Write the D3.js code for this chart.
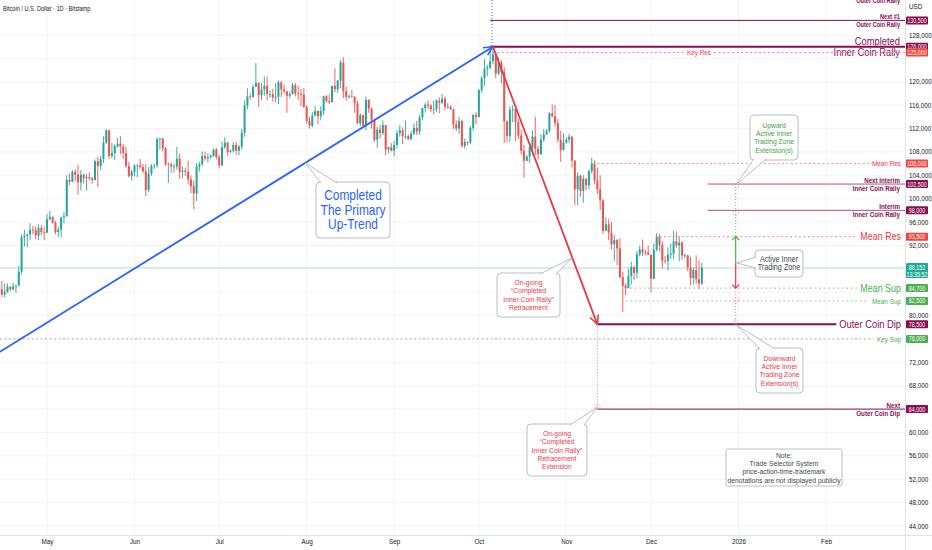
<!DOCTYPE html>
<html lang="en">
<head>
<meta charset="utf-8"/>
<style>
  body { margin: 0; background: #ffffff; }
  svg { display: block; }
  text { font-family: "Liberation Sans", Arial, sans-serif; }
</style>
</head>
<body>
<svg id="chart" width="932" height="550"></svg>

<script src="https://d3js.org/d3.v7.min.js"></script>
<script>
// ---- data (prices in thousands of USD, one candle per day from firstDay) ----
let firstDay = "2025-04-14"
let firstOpen = 83.7
let closes = [
  // Apr 14-30
  84.5, 83.6, 84.0, 84.9, 84.5, 85.0, 85.1, 87.5, 93.4, 93.7, 93.9, 94.7, 94.6, 93.7, 95.0, 94.3, 94.2,
  // May
  96.5, 96.9, 95.9, 94.3, 94.7, 96.8, 97.0, 103.2, 102.9, 104.6, 104.1, 102.8, 104.1, 103.5, 103.7, 103.5,
  103.2, 106.4, 105.6, 106.8, 109.6, 111.7, 107.3, 107.8, 109.0, 109.4, 108.9, 107.8, 105.6, 103.9, 104.6,
  // Jun
  105.7, 105.7, 105.4, 104.7, 101.5, 104.3, 105.6, 105.7, 110.2, 110.3, 108.6, 105.9, 105.9, 105.5, 105.5,
  106.8, 104.6, 104.8, 104.6, 103.3, 102.1, 100.9, 105.5, 105.9, 107.3, 106.9, 107.1, 107.3, 108.4, 107.1,
  // Jul
  105.7, 108.8, 109.6, 108.0, 108.2, 109.2, 108.2, 108.9, 111.3, 115.9, 117.5, 117.4, 119.1, 119.8, 117.7,
  118.7, 119.3, 117.9, 117.9, 117.3, 117.4, 119.9, 118.7, 118.4, 117.6, 117.9, 119.4, 118.0, 117.9, 117.8, 115.7,
  // Aug
  113.3, 112.5, 114.2, 115.0, 114.1, 115.0, 117.5, 116.7, 116.5, 119.3, 118.7, 120.2, 123.3, 118.4, 117.4,
  117.5, 117.4, 116.3, 112.9, 114.3, 112.5, 116.9, 115.4, 113.5, 110.1, 111.8, 111.2, 112.6, 108.4, 108.8, 108.2,
  // Sep
  109.2, 111.2, 111.7, 110.7, 110.7, 110.2, 111.1, 112.1, 111.5, 113.9, 115.5, 116.1, 115.9, 115.3, 115.3,
  116.8, 116.4, 117.1, 115.7, 115.7, 115.3, 112.7, 112.0, 113.3, 109.0, 109.7, 109.6, 112.1, 114.3, 114.0,
  // Oct
  118.6, 120.6, 122.2, 122.4, 123.5, 124.7, 121.4, 123.3, 121.7, 113.2, 110.7, 115.2, 115.3, 113.1, 110.8,
  108.2, 106.5, 107.2, 108.7, 110.6, 108.5, 107.6, 110.1, 111.0, 111.6, 114.6, 114.1, 112.9, 110.1, 108.3, 109.6,
  // Nov
  110.1, 110.6, 106.5, 101.6, 103.9, 101.3, 103.4, 102.3, 104.7, 106.0, 103.1, 101.6, 99.7, 94.5, 95.6,
  94.2, 92.2, 92.9, 91.5, 86.6, 85.1, 84.7, 86.8, 88.3, 87.3, 90.5, 91.3, 90.9, 90.8, 90.4,
  // Dec 1-19
  86.3, 91.3, 93.5, 92.1, 89.4, 89.3, 90.4, 90.6, 92.7, 92.0, 92.5, 90.3, 90.3, 88.2, 86.4, 87.8, 86.2, 85.5, 88.2
]
let highs = [
  85.8, 85.9, 85.5, 85.5, 85.1, 85.6, 85.3, 88.5, 93.9, 94.7, 94.0, 95.8, 95.3, 95.3, 95.6, 95.5, 95.2,
  97.4, 97.9, 96.9, 96.2, 95.2, 96.9, 97.7, 104.0, 104.3, 104.9, 105.0, 105.8, 104.9, 104.3, 104.2, 104.5,
  103.7, 106.7, 107.1, 107.3, 110.7, 111.9, 111.8, 109.5, 109.3, 110.4, 110.7, 109.3, 108.9, 106.3, 104.9,
  105.9, 105.9, 106.8, 106.0, 105.9, 105.4, 105.9, 106.0, 110.5, 110.4, 110.4, 108.8, 106.2, 106.2, 106.0,
  108.9, 107.7, 105.5, 105.3, 106.5, 104.0, 103.1, 106.1, 106.3, 108.1, 108.0, 107.8, 107.6, 108.6, 108.7,
  107.5, 109.8, 110.5, 109.7, 108.4, 109.7, 109.7, 109.2, 111.9, 116.8, 118.9, 118.0, 119.5, 123.2, 119.9,
  119.8, 120.9, 120.9, 118.5, 118.8, 119.7, 120.2, 120.1, 119.5, 118.3, 118.3, 119.8, 119.8, 119.3, 118.8, 118.9,
  116.0, 114.0, 114.8, 115.8, 115.1, 115.8, 117.6, 117.7, 117.8, 119.3, 122.3, 120.3, 123.7, 124.2, 119.2,
  117.9, 118.6, 117.6, 116.8, 114.6, 114.4, 117.5, 117.0, 115.6, 113.6, 112.3, 112.6, 113.4, 112.6, 108.9, 109.5,
  109.9, 111.7, 112.6, 112.2, 113.4, 111.0, 111.6, 112.9, 113.3, 114.3, 115.6, 116.4, 116.8, 116.2, 116.8,
  117.0, 117.3, 117.9, 117.5, 116.4, 116.0, 115.4, 113.4, 114.0, 113.5, 110.3, 109.8, 112.4, 114.5, 114.8,
  118.7, 121.0, 123.9, 122.9, 125.5, 126.2, 125.1, 124.1, 123.7, 122.5, 113.4, 115.8, 116.0, 115.4, 113.6,
  111.8, 109.2, 107.5, 109.5, 111.7, 114.0, 109.0, 111.0, 111.9, 111.9, 114.8, 116.1, 116.0, 113.6, 111.6, 111.2,
  110.5, 111.1, 110.7, 106.6, 104.5, 104.1, 104.0, 103.5, 105.0, 107.0, 106.5, 105.3, 104.0, 99.9, 96.8,
  96.6, 96.0, 93.8, 93.1, 93.2, 87.5, 85.5, 88.0, 89.2, 88.5, 91.0, 91.9, 93.0, 91.2, 92.0,
  90.4, 92.3, 94.1, 94.0, 92.7, 90.2, 91.7, 92.3, 94.5, 94.4, 93.5, 92.7, 90.6, 90.4, 90.0, 88.2, 90.3, 89.4, 89.0
]
let lows = [
  83.6, 83.2, 83.1, 83.9, 84.2, 84.3, 83.9, 85.1, 87.0, 91.8, 91.7, 92.9, 93.9, 93.1, 92.9, 93.7, 92.9,
  94.1, 96.3, 95.7, 93.9, 93.5, 93.4, 95.8, 96.9, 102.3, 102.8, 103.0, 100.7, 101.4, 102.6, 101.4, 103.1,
  102.6, 103.1, 102.0, 104.9, 106.1, 109.3, 106.8, 106.9, 106.6, 108.7, 107.6, 106.8, 105.3, 103.6, 103.1,
  103.8, 103.7, 105.1, 104.3, 100.4, 101.1, 103.9, 105.1, 105.3, 108.4, 108.1, 105.6, 102.7, 104.4, 104.5,
  105.0, 103.4, 103.5, 103.9, 102.4, 100.9, 98.2, 99.6, 104.6, 105.6, 106.5, 106.2, 106.8, 107.2, 106.7,
  105.2, 105.6, 108.5, 107.3, 107.8, 107.9, 107.5, 107.4, 108.4, 110.6, 115.3, 116.9, 117.3, 119.1, 115.7,
  116.9, 117.6, 116.8, 117.3, 116.6, 116.5, 116.2, 117.4, 117.9, 114.7, 117.2, 117.8, 117.5, 116.9, 115.8, 115.5,
  112.8, 112.0, 112.2, 114.1, 112.7, 113.4, 114.3, 116.4, 116.2, 116.5, 118.2, 118.1, 118.9, 117.2, 116.8,
  117.1, 117.3, 114.7, 112.7, 112.4, 112.4, 111.7, 114.7, 112.0, 109.7, 108.7, 110.3, 110.9, 107.4, 107.8, 108.1,
  107.3, 108.6, 110.6, 109.3, 110.2, 110.0, 110.0, 110.9, 110.9, 110.9, 113.4, 114.7, 115.3, 114.8, 114.4,
  114.8, 114.6, 116.2, 115.2, 115.4, 115.2, 111.9, 111.5, 111.1, 108.7, 108.6, 109.1, 109.3, 111.6, 112.7,
  113.9, 118.1, 119.3, 121.0, 122.1, 123.0, 120.6, 121.1, 119.7, 109.5, 109.6, 109.7, 113.1, 109.9, 110.2,
  107.5, 103.6, 106.4, 106.1, 107.5, 107.5, 106.7, 107.5, 109.7, 110.9, 111.3, 113.9, 112.3, 109.6, 106.3, 108.6,
  109.4, 109.5, 105.3, 98.9, 98.9, 100.3, 99.3, 101.4, 101.6, 104.3, 102.5, 100.8, 98.0, 94.0, 94.6,
  92.9, 91.3, 89.3, 88.6, 86.3, 80.6, 83.5, 84.7, 85.3, 86.1, 86.4, 90.1, 90.2, 90.3, 90.3,
  84.0, 86.2, 91.0, 91.0, 88.0, 88.9, 87.7, 89.6, 89.6, 91.6, 89.3, 89.5, 89.8, 87.6, 85.2, 85.3, 85.5, 84.5, 85.2
]

let lastPrice = 88152
let countdown = "13:35:52"
let priceTicks = [44000, 48000, 52000, 56000, 60000, 64000, 68000, 72000, 76000, 80000, 84000, 88000,
                  92000, 96000, 100000, 104000, 108000, 112000, 116000, 120000, 124000, 128000]
let monthTicks = ["2025-05-01", "2025-06-01", "2025-07-01", "2025-08-01", "2025-09-01", "2025-10-01",
                  "2025-11-01", "2025-12-01", "2026-01-01", "2026-02-01"]
let monthLabels = ["May", "Jun", "Jul", "Aug", "Sep", "Oct", "Nov", "Dec", "2026", "Feb"]

// horizontal levels drawn on the chart
let levelPrices = [130500, 126000, 125000, 106000, 102500, 98000, 93500, 84700, 82500, 78500, 76000, 64000]
let levelNotes = [["Next #1", "Outer Coin Rally"], ["Completed", "Inner Coin Rally"], ["Key Res"], ["Mean Res"],
                  ["Next Interim", "Inner Coin Rally"], ["Interim", "Inner Coin Rally"], ["Mean Res"], ["Mean Sup"],
                  ["Mean Sup"], ["Outer Coin Dip"], ["Key Sup"], ["Next", "Outer Coin Dip"]]

let trendNote = ["Completed", "The Primary", "Up-Trend"]
let retraceNote = ["On-going", "\u201CCompleted", "Inner Coin Rally\u201D", "Retracement"]
let extensionNote = ["On-going", "\u201CCompleted", "Inner Coin Rally\u201D", "Retracement", "Extension"]
let upNote = ["Upward", "Active Inner", "Trading Zone", "Extension(s)"]
let zoneNote = ["Active Inner", "Trading Zone"]
let downNote = ["Downward", "Active Inner", "Trading Zone", "Extension(s)"]
let disclaimer = ["Note:", "Trade Selector System", "price-action-time-trademark", "denotations are not displayed publicly"]

// ---- setup ----
const MAG = "#880e4f", RED = "#f23645", GRN = "#4caf50", BLUE = "#2962ff"
const UP = "#26a69a", DOWN = "#ef5350"
const SQ = 0.85   // horizontal squeeze to imitate the narrow chart font
let svg = d3.select("#chart")
let plotRight = 905, plotBottom = 535
let parse = d3.utcParse("%Y-%m-%d")

let x = d3.scaleUtc().domain([parse("2025-05-01"), parse("2026-02-01")]).range([47, 826])
let y = d3.scaleLinear().domain([44000, 128000]).range([526, 35])

// narrow text: returns the text node (already placed), width in px available via .width
function ntext(parent, tx, ty, str, size, color, anchor, weight) {
  let g = parent.append("g").attr("transform", "translate(" + tx + "," + ty + ") scale(" + SQ + ",1)")
  let t = g.append("text").attr("x", 0).attr("y", 0)
    .attr("text-anchor", anchor || "start").attr("dominant-baseline", "central")
    .attr("font-size", size).attr("fill", color).attr("font-weight", weight || "normal").text(str)
  return t.node().getComputedTextLength() * SQ
}

// grid
let grid = svg.append("g").attr("stroke", "#f2f3f5").attr("stroke-width", 1)
grid.selectAll(".gv").data(monthTicks).enter().append("line")
  .attr("x1", d => x(parse(d))).attr("x2", d => x(parse(d))).attr("y1", 0).attr("y2", plotBottom)
grid.selectAll(".gh").data(priceTicks).enter().append("line")
  .attr("x1", 0).attr("x2", plotRight).attr("y1", d => y(d)).attr("y2", d => y(d))

// current price line
svg.append("line").attr("x1", 0).attr("x2", plotRight).attr("y1", y(lastPrice)).attr("y2", y(lastPrice))
  .attr("stroke", "#b2dfdb").attr("stroke-width", 1)

// candles
let start = parse(firstDay)
let candles = closes.map((c, i) => {
  let o = i ? closes[i - 1] : firstOpen
  return { date: d3.utcDay.offset(start, i), o: o * 1000, c: c * 1000,
           h: Math.max(highs[i], o, c) * 1000, l: Math.min(lows[i], o, c) * 1000 }
})
let cg = svg.append("g")
cg.selectAll("line").data(candles).enter().append("line")
  .attr("x1", d => x(d.date)).attr("x2", d => x(d.date))
  .attr("y1", d => y(d.h)).attr("y2", d => y(d.l))
  .attr("stroke", d => d.c >= d.o ? UP : DOWN).attr("stroke-width", 0.9)
cg.selectAll("rect").data(candles).enter().append("rect")
  .attr("x", d => x(d.date) - 1).attr("width", 2)
  .attr("y", d => y(Math.max(d.o, d.c)))
  .attr("height", d => Math.max(0.8, Math.abs(y(d.o) - y(d.c))))
  .attr("fill", d => d.c >= d.o ? UP : DOWN)

// helpers
function head(x1, y1, x2, y2, len, spread) {
  let a = Math.atan2(y2 - y1, x2 - x1)
  return "M" + (x2 - len * Math.cos(a - spread)) + "," + (y2 - len * Math.sin(a - spread)) +
         "L" + x2 + "," + y2 +
         "L" + (x2 - len * Math.cos(a + spread)) + "," + (y2 - len * Math.sin(a + spread))
}
function marker(cx, cy, color) {
  svg.append("circle").attr("cx", cx).attr("cy", cy).attr("r", 2.6)
    .attr("fill", "none").attr("stroke", color).attr("stroke-width", 0.8).attr("stroke-dasharray", "1,1.2")
}

// ---- levels ----
let levelStyle = [
  { from: "2025-10-05", line: MAG, w: 1, box: MAG, size: 6.6, bold: true, mode: "split", gap: 3.6 },
  { from: "2025-10-05", line: MAG, w: 2, box: MAG, size: 11, mode: "split", gap: 5.6 },
  { from: "2025-10-06", line: "#f48a93", w: 1, dash: "2,2.5", box: "#f44336", txt: RED, size: 7.5, mode: "mid", at: "2025-12-18" },
  { from: "2025-11-12", line: "#f48a93", w: 1, dash: "2,2.5", box: "#f4433a", txt: RED, size: 7.5, mode: "end" },
  { from: "2025-12-21", line: "#b4507d", w: 1, box: MAG, size: 7.3, bold: true, mode: "split", gap: 4.2 },
  { from: "2025-12-21", line: "#b4507d", w: 1, box: MAG, size: 7.3, bold: true, mode: "split", gap: 4.2 },
  { from: "2025-12-04", line: "#f48a93", w: 1, dash: "2,2.5", box: "#f4433a", txt: RED, size: 10.5, mode: "end" },
  { from: "2025-11-22", line: "#b7b7b7", w: 1, dash: "2,2.5", box: GRN, txt: GRN, size: 10.5, mode: "end" },
  { from: "2025-11-22", line: "#b7b7b7", w: 1, dash: "2,2.5", box: GRN, txt: GRN, size: 7.5, mode: "end" },
  { from: "2025-11-12", line: MAG, w: 2, box: MAG, size: 11, mode: "end" },
  { from: null, line: "#b7b7b7", w: 1, dash: "2,2.5", box: GRN, txt: GRN, size: 7.5, mode: "end" },
  { from: "2025-11-12", line: MAG, w: 1, box: MAG, size: 7.3, bold: true, mode: "split", gap: 4.2 }
]

let lg = svg.append("g")
levelPrices.forEach((p, i) => {
  let s = levelStyle[i], yy = y(p), notes = levelNotes[i]
  let x0 = s.from ? x(parse(s.from)) : 0
  let color = s.txt || MAG, weight = s.bold ? "bold" : "normal"
  let segs = []
  if (s.mode === "split") {
    ntext(lg, 900, yy - s.gap, notes[0], s.size, color, "end", weight)
    ntext(lg, 900, yy + s.gap, notes[1], s.size, color, "end", weight)
    segs.push([x0, plotRight])
  } else if (s.mode === "mid") {
    let cx = x(parse(s.at))
    let wdt = ntext(lg, cx, yy, notes[0], s.size, color, "middle", weight)
    segs.push([x0, cx - wdt / 2 - 3], [cx + wdt / 2 + 3, plotRight])
  } else {
    let wdt = ntext(lg, 901, yy, notes[0], s.size, color, "end", weight)
    segs.push([x0, 901 - wdt - 3])
  }
  segs.forEach(sg => {
    lg.append("line").attr("x1", sg[0]).attr("x2", sg[1]).attr("y1", yy).attr("y2", yy)
      .attr("stroke", s.line).attr("stroke-width", s.w).attr("stroke-dasharray", s.dash || null)
  })
})

// partly visible label cut off at the top edge
ntext(svg, 900, 0.5, "Outer Coin Rally", 6.6, MAG, "end", "bold")

// ---- trend lines ----
let trendStart = [x(parse("2025-04-14")), y(73700)]
let peak = [x(parse("2025-10-06")), y(126000)]
let dipEnd = [x(parse("2025-11-12")), y(78500)]

svg.append("line").attr("x1", peak[0] - 1).attr("x2", peak[0] - 1).attr("y1", 0).attr("y2", peak[1])
  .attr("stroke", BLUE).attr("stroke-width", 1).attr("stroke-dasharray", "1,2")
svg.append("line").attr("x1", trendStart[0]).attr("y1", trendStart[1]).attr("x2", peak[0]).attr("y2", peak[1])
  .attr("stroke", BLUE).attr("stroke-width", 1.8)
svg.append("path").attr("d", head(trendStart[0], trendStart[1], peak[0], peak[1], 10, 0.45))
  .attr("fill", "none").attr("stroke", BLUE).attr("stroke-width", 1.5)

svg.append("line").attr("x1", peak[0]).attr("y1", peak[1]).attr("x2", dipEnd[0]).attr("y2", dipEnd[1])
  .attr("stroke", "#e53945").attr("stroke-width", 1.8)
svg.append("path").attr("d", head(peak[0], peak[1], dipEnd[0], dipEnd[1], 10, 0.45))
  .attr("fill", "none").attr("stroke", "#e53945").attr("stroke-width", 1.5)

// retracement extension (vertical)
let nextDip = y(levelPrices[11])
svg.append("line").attr("x1", dipEnd[0]).attr("x2", dipEnd[0]).attr("y1", dipEnd[1]).attr("y2", nextDip)
  .attr("stroke", "#ef7d9a").attr("stroke-width", 1).attr("stroke-dasharray", "1,2")
marker(dipEnd[0], nextDip - 2, "#ef7d9a")

// active zone arrows
let zx = x(parse("2025-12-31")), zoneMid = y(89000)
svg.append("line").attr("x1", zx).attr("x2", zx).attr("y1", y(levelPrices[4])).attr("y2", y(levelPrices[6]))
  .attr("stroke", "#66bb6a").attr("stroke-width", 1).attr("stroke-dasharray", "1,2")
svg.append("line").attr("x1", zx).attr("x2", zx).attr("y1", y(levelPrices[7])).attr("y2", y(levelPrices[9]))
  .attr("stroke", "#ef7d9a").attr("stroke-width", 1).attr("stroke-dasharray", "1,2")
svg.append("line").attr("x1", zx).attr("x2", zx).attr("y1", zoneMid).attr("y2", y(levelPrices[6]))
  .attr("stroke", GRN).attr("stroke-width", 1.2)
svg.append("path").attr("d", head(zx, zoneMid, zx, y(levelPrices[6]), 5, 0.8))
  .attr("fill", "none").attr("stroke", GRN).attr("stroke-width", 1.2)
svg.append("line").attr("x1", zx).attr("x2", zx).attr("y1", zoneMid).attr("y2", y(levelPrices[7]))
  .attr("stroke", RED).attr("stroke-width", 1.2)
svg.append("path").attr("d", head(zx, zoneMid, zx, y(levelPrices[7]), 5, 0.8))
  .attr("fill", "none").attr("stroke", RED).attr("stroke-width", 1.2)
marker(zx, y(levelPrices[4]) + 2.5, "#66bb6a")
marker(zx, y(levelPrices[5]) + 2.5, "#66bb6a")
marker(zx, y(levelPrices[8]) - 1, "#ef7d9a")
marker(zx, y(levelPrices[9]) - 2, "#ef7d9a")

// ---- callouts ----
function callout(lines, color, size, step, box, base, tip, rx) {
  let g = svg.append("g")
  g.append("rect").attr("x", box[0]).attr("y", box[1]).attr("width", box[2]).attr("height", box[3])
    .attr("rx", rx).attr("fill", "#ffffff").attr("stroke", "#b2b5be").attr("stroke-width", 0.9)
  if (tip) {
    g.append("path").attr("d", "M" + base[0] + "L" + tip + "L" + base[1] + "Z")
      .attr("fill", "#ffffff").attr("stroke", "none")
    g.append("path").attr("d", "M" + base[0] + "L" + tip + "L" + base[1])
      .attr("fill", "none").attr("stroke", "#b2b5be").attr("stroke-width", 0.9)
  }
  let cx = box[0] + box[2] / 2, cy = box[1] + box[3] / 2
  lines.forEach((t, k) => {
    ntext(g, cx, cy + (k - (lines.length - 1) / 2) * step, t, size, color, "middle")
  })
}
function along(a, b, f) { return [a[0] + (b[0] - a[0]) * f, a[1] + (b[1] - a[1]) * f] }

callout(trendNote, BLUE, 14, 14.5, [316, 182, 74, 56], [[321, 183], [337, 183]], along(trendStart, peak, 0.62), 4)
callout(retraceNote, RED, 8, 8.4, [497, 273, 63, 44], [[540, 274], [556, 274]], along(peak, dipEnd, 0.76), 4)
callout(extensionNote, RED, 8, 8.4, [527, 424, 60, 52], [[570, 425], [584, 425]], [dipEnd[0], nextDip - 2], 4)
callout(upNote, "#43a047", 8, 8.4, [750, 115, 48, 45], [[754, 159], [766, 159]], [zx, y(levelPrices[4]) + 1], 4)
callout(zoneNote, "#434651", 8.5, 8.6, [755, 250, 48, 27], [[756, 257], [756, 268]], [zx + 1, zoneMid], 4)
callout(downNote, RED, 8, 8.4, [756, 348, 47, 45], [[760, 349], [775, 349]], [zx + 1, y(levelPrices[9]) + 1], 4)
callout(disclaimer, "#434651", 8, 8.4, [726, 449, 116, 37], null, null, 1.5)

// ---- axes ----
svg.append("line").attr("x1", plotRight + 0.5).attr("x2", plotRight + 0.5).attr("y1", 0).attr("y2", 550)
  .attr("stroke", "#e0e3eb")
svg.append("line").attr("x1", 0).attr("x2", 932).attr("y1", plotBottom + 0.5).attr("y2", plotBottom + 0.5)
  .attr("stroke", "#e0e3eb")

let boxPrices = levelPrices.concat([lastPrice])
let shownTicks = priceTicks.filter(t => boxPrices.every(p => Math.abs(y(t) - y(p)) > 6.5))

let yAxis = svg.append("g").attr("transform", "translate(" + plotRight + ",0)")
  .call(d3.axisRight(y).tickValues(shownTicks).tickSize(0).tickPadding(4).tickFormat(d3.format(",")))
yAxis.select(".domain").remove()
yAxis.selectAll("text").attr("font-size", 6.3).attr("fill", "#131722")

let xAxis = svg.append("g").attr("transform", "translate(0," + plotBottom + ")")
  .call(d3.axisBottom(x).tickValues(monthTicks.map(parse)).tickSize(0).tickPadding(5)
        .tickFormat((d, i) => monthLabels[i]))
xAxis.select(".domain").remove()
xAxis.selectAll("text").attr("font-size", 6.3).attr("fill", "#131722")

svg.append("text").attr("x", 909).attr("y", 9).attr("font-size", 6.3).attr("fill", "#131722").text("USD")

// price boxes on the axis
let pb = svg.append("g")
levelPrices.forEach((p, i) => {
  let yy = y(p)
  pb.append("rect").attr("x", plotRight + 1).attr("y", yy - 4).attr("width", 22).attr("height", 8)
    .attr("fill", levelStyle[i].box).attr("rx", 1)
  ntext(pb, plotRight + 12, yy + 0.3, d3.format(",")(p), 6.3, "#ffffff", "middle")
})
let ly = y(lastPrice)
pb.append("rect").attr("x", plotRight + 1).attr("y", ly - 5).attr("width", 22).attr("height", 15)
  .attr("fill", "#22ab94").attr("rx", 1)
ntext(pb, plotRight + 12, ly, d3.format(",")(lastPrice), 6.3, "#ffffff", "middle")
ntext(pb, plotRight + 12, ly + 6.5, countdown, 6.3, "#ffffff", "middle")

// title
ntext(svg, 3, 8.5, "Bitcoin / U.S. Dollar \u00B7 1D \u00B7 Bitstamp", 6.6, "#131722", "start")
</script>
</body>
</html>
